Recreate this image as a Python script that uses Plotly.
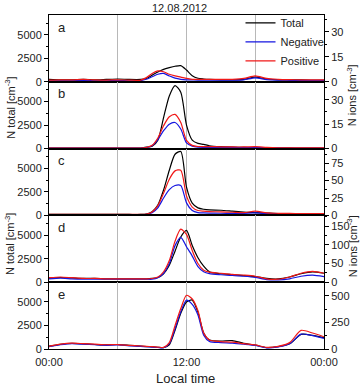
import plotly.graph_objects as go

# time of day (hours)
hours = [0, 1, 2, 3, 4, 5, 6, 7, 8, 8.5, 9, 9.5, 10, 10.5, 11, 11.5, 12, 12.5, 13, 13.5,
         14, 15, 16, 17, 18, 19, 20, 21, 22, 23, 24]

panel_labels = ["a", "b", "c", "d", "e"]

# N total [cm^-3] (left axes)
total_a = [250, 200, 200, 250, 200, 250, 300, 250, 250, 350, 700, 1050, 1320, 1500, 1650, 1720, 1250, 650, 380, 300,
           250, 200, 200, 250, 500, 300, 200, 200, 200, 150, 150]
total_b = [50, 50, 50, 50, 50, 50, 50, 50, 50, 150, 250, 900, 3300, 5600, 6700, 6000, 2500, 900, 550, 450,
           300, 200, 150, 120, 100, 90, 80, 70, 60, 60, 60]
total_c = [100, 100, 100, 100, 100, 100, 100, 100, 100, 150, 400, 1100, 2700, 4800, 6500, 6800, 3000, 1300, 800, 650,
           580, 550, 450, 350, 300, 250, 200, 200, 200, 200, 200]
total_d = [400, 500, 450, 400, 400, 350, 350, 350, 350, 350, 400, 500, 900, 1800, 3300, 4800, 5500, 3900, 2600, 1700,
           1100, 900, 800, 700, 600, 400, 350, 550, 900, 1100, 950]
total_e = [300, 500, 600, 550, 480, 430, 480, 400, 300, 260, 220, 180, 150, 450, 2000, 3800, 5000, 5200, 3900, 1700,
           950, 850, 900, 600, 420, 150, 250, 550, 1550, 1450, 1200]

# N ions [cm^-3] (right axes)
neg_a = [0.6, 0.6, 0.6, 0.7, 0.6, 0.6, 0.7, 0.6, 0.7, 1.5, 3, 4.5, 5, 3.5, 2.2, 1.5, 1.2, 1.1, 1, 1,
         1, 1, 1, 1.2, 2.4, 1.3, 1, 0.9, 0.8, 0.8, 0.8]
pos_a = [1, 1.2, 1.1, 1.4, 1.1, 1, 1.2, 1, 1, 2.5, 5, 6.5, 6, 4.5, 3.5, 2.8, 2, 1.5, 1.4, 1.4,
         1.4, 1.4, 1.5, 2, 3.6, 2, 1.5, 1.3, 1.2, 1.2, 1.2]
neg_b = [0.3, 0.3, 0.3, 0.3, 0.3, 0.3, 0.3, 0.3, 0.3, 0.6, 1.8, 5.5, 11, 15, 16, 12, 3.5, 1.5, 0.9, 0.8,
         0.8, 0.7, 0.7, 0.6, 0.6, 0.5, 0.4, 0.3, 0.3, 0.3, 0.3]
pos_b = [0.3, 0.3, 0.3, 0.3, 0.3, 0.3, 0.3, 0.3, 0.3, 0.7, 2, 6.5, 14, 19.5, 21, 16, 5, 2, 1.3, 1.2,
         1.2, 1.1, 1, 1, 1.2, 0.8, 0.5, 0.4, 0.4, 0.4, 0.4]
neg_c = [1, 1, 1, 1, 1, 1, 1, 1, 1, 1.5, 4, 11, 25, 37, 43, 43, 18, 7, 4, 3.5,
         3.3, 3.1, 3, 3, 3.5, 2.5, 2, 1.8, 1.6, 1.5, 1.5]
pos_c = [1.5, 1.5, 1.5, 1.5, 1.5, 1.5, 1.5, 1.5, 1.5, 2, 5, 14, 32, 52, 64, 65, 28, 12, 7, 6,
         5.5, 5, 4.5, 4, 6, 3.5, 3, 2.8, 2.6, 2.5, 2.5]
neg_d = [9, 11, 9, 8, 8, 8, 8, 8, 8, 8, 8, 12, 24, 50, 98, 120, 95, 70, 42, 28,
         23, 20, 18, 16, 13, 7, 6, 9, 16, 19, 15]
pos_d = [12, 14, 12, 10, 10, 9, 9, 9, 9, 9, 10, 14, 28, 58, 110, 142, 128, 85, 50, 32,
         27, 24, 21, 19, 16, 9, 8, 14, 24, 29, 24]
neg_e = [22, 40, 50, 45, 40, 35, 38, 30, 25, 21, 18, 14, 12, 50, 190, 350, 460, 420, 320, 130,
         70, 60, 55, 45, 33, 10, 20, 50, 140, 125, 100]
pos_e = [25, 45, 55, 50, 45, 40, 42, 35, 28, 25, 22, 18, 15, 60, 220, 380, 505, 470, 360, 150,
         85, 70, 65, 50, 38, 15, 25, 60, 175, 150, 115]

totals = [total_a, total_b, total_c, total_d, total_e]
negs = [neg_a, neg_b, neg_c, neg_d, neg_e]
poss = [pos_a, pos_b, pos_c, pos_d, pos_e]

left_range = [0, 7100]
right_ranges = [[0, 40], [0, 41], [0, 96], [0, 179], [0, 628]]
right_dticks = [15, 15, 25, 50, 250]

x_tickvals = [0, 6, 12, 18, 24]
x_ticktext = ["00:00", "", "12:00", "", "00:00"]

C_TOTAL = "#000000"
C_NEG = "#1515e0"
C_POS = "#f01818"

FONT = "Liberation Sans, Arial, sans-serif"

fig = go.Figure()
n = 5
layout = {}
for i in range(n):
    k = i + 1
    kr = i + 6
    xa = "x" if k == 1 else f"x{k}"
    ya = "y" if k == 1 else f"y{k}"
    yr = f"y{kr}"
    top = 1 - i / n
    bot = 1 - (i + 1) / n
    show = (i == 0)
    fig.add_trace(go.Scatter(x=hours, y=totals[i], xaxis=xa, yaxis=ya, mode="lines",
                             name="Total", showlegend=show, legendrank=1,
                             line=dict(color=C_TOTAL, width=1.2, shape="spline", smoothing=0.7)))
    fig.add_trace(go.Scatter(x=hours, y=negs[i], xaxis=xa, yaxis=yr, mode="lines",
                             name="Negative", showlegend=show, legendrank=2,
                             line=dict(color=C_NEG, width=1.2, shape="spline", smoothing=0.7)))
    fig.add_trace(go.Scatter(x=hours, y=poss[i], xaxis=xa, yaxis=yr, mode="lines",
                             name="Positive", showlegend=show, legendrank=3,
                             line=dict(color=C_POS, width=1.2, shape="spline", smoothing=0.7)))
    xkey = "xaxis" if k == 1 else f"xaxis{k}"
    ykey = "yaxis" if k == 1 else f"yaxis{k}"
    layout[xkey] = dict(domain=[0, 1], anchor=ya, range=[0, 24], tickvals=x_tickvals,
                        ticktext=x_ticktext, showticklabels=(i == n - 1), ticks="",
                        ticklabelstandoff=3,
                        showgrid=True, gridcolor="#b8b8b8", gridwidth=1, zeroline=False,
                        showline=True, mirror=True, linecolor="#000", linewidth=1,
                        tickfont=dict(size=11, color="#222"))
    if k != 1:
        layout[xkey]["matches"] = "x"
    layout[ykey] = dict(domain=[bot, top], anchor=xa, range=left_range, tickmode="linear",
                        tick0=0, dtick=2500, ticks="outside", ticklen=4, tickcolor="#000",
                        minor=dict(ticks="outside", ticklen=2, dtick=1250, tick0=0, tickcolor="#000"),
                        showgrid=False, zeroline=False, showline=True, linecolor="#000",
                        linewidth=1, tickfont=dict(size=11, color="#222"))
    layout[f"yaxis{kr}"] = dict(overlaying=ya, side="right", anchor=xa, range=right_ranges[i],
                                tickmode="linear", tick0=0, dtick=right_dticks[i],
                                ticks="outside", ticklen=4, tickcolor="#000",
                                minor=dict(ticks="outside", ticklen=2, dtick=right_dticks[i] / 2,
                                           tick0=0, tickcolor="#000"),
                                showgrid=False, zeroline=False, showline=True, linecolor="#000",
                                linewidth=1, tickfont=dict(size=11, color="#222"))

annotations = []
for i, lab in enumerate(panel_labels):
    top = 1 - i / n
    annotations.append(dict(text=lab, xref="paper", yref="paper", x=0.025, y=top - 0.008,
                            xanchor="left", yanchor="top", showarrow=False,
                            font=dict(size=13, color="#222")))
annotations.append(dict(text="12.08.2012", xref="paper", yref="paper", x=0.476, y=1.022,
                        xanchor="center", yanchor="middle", showarrow=False,
                        font=dict(size=11, color="#222")))
for yy in [0.722, 0.314]:
    annotations.append(dict(text="N total [cm<sup>-3</sup>]", xref="paper", yref="paper",
                            x=-0.142, y=yy, textangle=-90, xanchor="center", yanchor="middle",
                            showarrow=False, font=dict(size=11, color="#222")))
for yy in [0.76, 0.308]:
    annotations.append(dict(text="N ions [cm<sup>-3</sup>]", xref="paper", yref="paper",
                            x=1.102, y=yy, textangle=-90, xanchor="center", yanchor="middle",
                            showarrow=False, font=dict(size=11, color="#222")))
annotations.append(dict(text="Local time", xref="paper", yref="paper", x=0.495, y=-0.087,
                        xanchor="center", yanchor="middle", showarrow=False,
                        font=dict(size=13, color="#222")))

fig.update_layout(**layout)
fig.update_layout(
    width=363, height=387,
    margin=dict(l=49, r=39, t=15, b=38, autoexpand=False),
    paper_bgcolor="white", plot_bgcolor="white",
    font=dict(family=FONT, size=11, color="#222"),
    showlegend=True,
    legend=dict(x=1.02, y=1.02, xanchor="right", yanchor="top", bgcolor="rgba(0,0,0,0)",
                font=dict(size=11, color="#222"), tracegroupgap=0, itemwidth=30),
    annotations=annotations,
)
fig.write_html("out.html")
